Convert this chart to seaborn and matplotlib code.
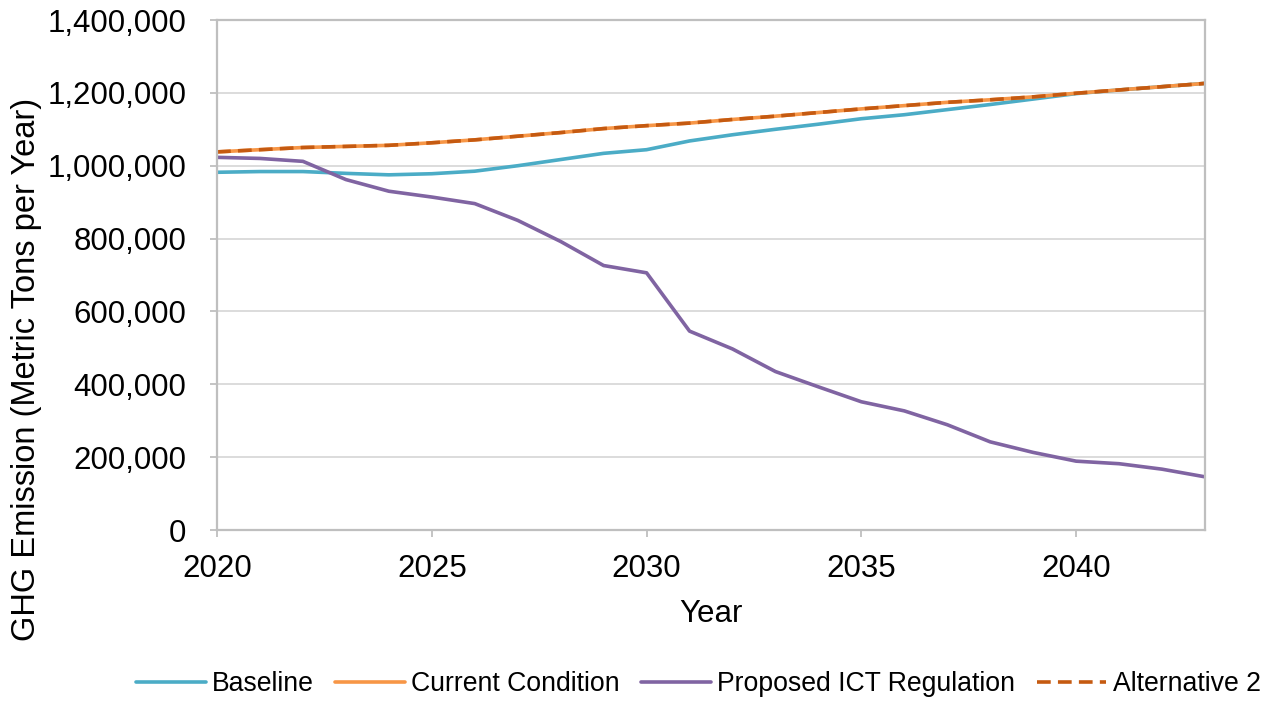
import matplotlib
matplotlib.use("Agg")
import matplotlib.pyplot as plt
import matplotlib.ticker as mticker
import numpy as np
import pandas as pd
import seaborn as sns

# Annual GHG emissions by scenario (metric tons per year)
years = list(range(2020, 2044))
baseline = [982000, 984000, 984000, 979000, 975000, 978000, 985000, 1000000,
            1017000, 1034000, 1044000, 1068000, 1085000, 1100000, 1114000, 1129000,
            1140000, 1154000, 1168000, 1183000, 1198000, 1208000, 1217000, 1226000]
current_condition = [1038000, 1044000, 1050000, 1053000, 1056000, 1063000, 1071000, 1081000,
                     1091000, 1102000, 1110000, 1117000, 1127000, 1136000, 1146000, 1156000,
                     1165000, 1174000, 1181000, 1189000, 1199000, 1208000, 1217000, 1226000]
proposed_ict = [1023000, 1020000, 1012000, 962000, 930000, 914000, 896000, 850000,
                792000, 726000, 706000, 546000, 497000, 435000, 393000, 352000,
                327000, 289000, 242000, 213000, 189000, 182000, 167000, 146000]
alternative_2 = [1038000, 1044000, 1050000, 1053000, 1056000, 1063000, 1071000, 1081000,
                 1091000, 1102000, 1110000, 1117000, 1127000, 1136000, 1146000, 1156000,
                 1165000, 1174000, 1181000, 1189000, 1199000, 1208000, 1217000, 1226000]

series_names = ["Baseline", "Current Condition", "Proposed ICT Regulation", "Alternative 2"]
x_ticks = [2020, 2025, 2030, 2035, 2040]
y_ticks = [0, 200000, 400000, 600000, 800000, 1000000, 1200000, 1400000]

df = pd.DataFrame({
    "Year": years * 4,
    "Emission": baseline + current_condition + proposed_ict + alternative_2,
    "Scenario": np.repeat(series_names, len(years)),
})

palette = {
    "Baseline": "#4BACC6",
    "Current Condition": "#F79646",
    "Proposed ICT Regulation": "#8064A2",
    "Alternative 2": "#C55A11",
}
dashes = {
    "Baseline": "",
    "Current Condition": "",
    "Proposed ICT Regulation": "",
    "Alternative 2": (3.8, 2.0),
}

sns.set_theme(style="white")
plt.rcParams["font.family"] = ["Liberation Sans", "DejaVu Sans"]
plt.rcParams["text.color"] = "black"

fig = plt.figure(figsize=(12.7, 7.02), dpi=100)
ax = fig.add_axes([0.1709, 0.245, 0.9488 - 0.1709, 0.9715 - 0.245])

sns.lineplot(data=df, x="Year", y="Emission", hue="Scenario", style="Scenario",
             hue_order=series_names, style_order=series_names,
             palette=palette, dashes=dashes, linewidth=2.6, ax=ax, legend=False)

ax.set_xlim(2020, 2043)
ax.set_ylim(0, 1400000)
ax.set_xticks(x_ticks)
ax.set_yticks(y_ticks)
ax.yaxis.set_major_formatter(mticker.FuncFormatter(lambda v, p: f"{int(v):,}"))

ax.grid(axis="y", color="#D9D9D9", linewidth=1.3)
ax.set_axisbelow(True)
for side in ["left", "bottom", "right", "top"]:
    ax.spines[side].set_visible(True)
    ax.spines[side].set_color("#BFBFBF")
    ax.spines[side].set_linewidth(1.6)

ax.tick_params(axis="both", which="major", direction="out", length=5, width=1.3,
               color="#BFBFBF", labelsize=22.5, labelcolor="black",
               bottom=True, left=True, top=False, right=False)
ax.tick_params(axis="x", pad=12)
ax.tick_params(axis="y", pad=17)

ax.set_xlabel("Year", fontsize=22.5, color="black", labelpad=11)
ax.set_ylabel("GHG Emission (Metric Tons per Year)", fontsize=23.5, color="black")
ax.yaxis.set_label_coords(-0.177, 0.314)

handles = [
    plt.Line2D([], [], color=palette[n], linewidth=2.6,
               linestyle=(0, dashes[n]) if dashes[n] else "-")
    for n in series_names
]
fig.legend(handles, series_names, loc="center", bbox_to_anchor=(0.55, 0.025),
           ncol=4, frameon=False, fontsize=19.2, handlelength=2.6,
           handletextpad=0.25, columnspacing=0.8, labelcolor="black")

fig.savefig("out.png", dpi=100)
